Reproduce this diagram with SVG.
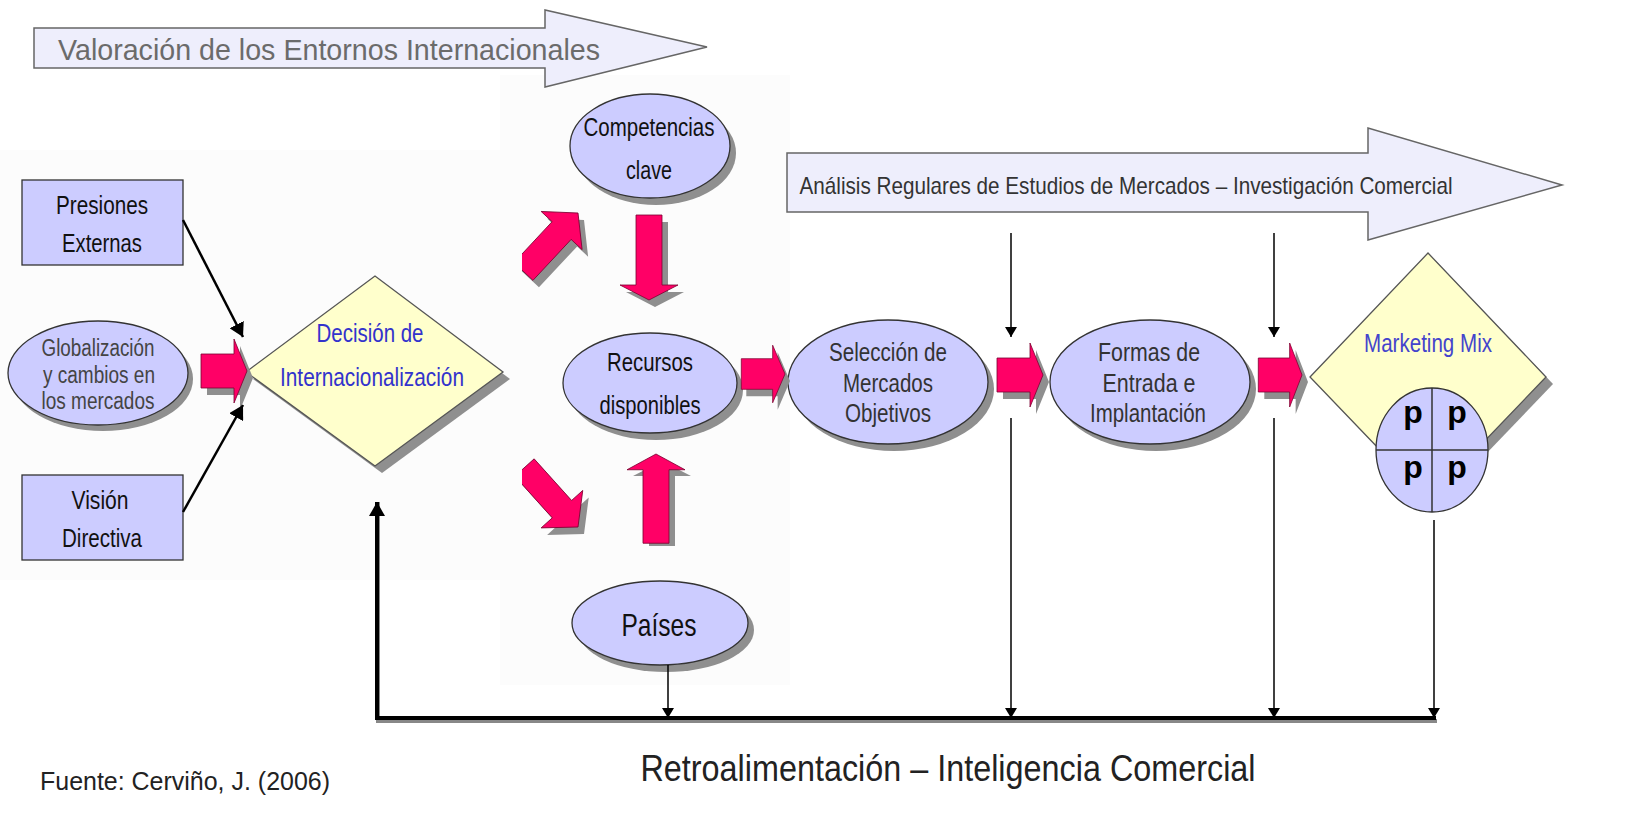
<svg xmlns="http://www.w3.org/2000/svg" width="1633" height="820" viewBox="0 0 1633 820">
<style>
.t{font-family:"Liberation Sans","Noto Sans",Arial,sans-serif;text-anchor:middle}
.nd{fill:#ccccff;stroke:#333;stroke-width:1.3}
.dm{fill:#ffffcc;stroke:#555;stroke-width:1.3}
.sh{fill:#8f8f8f}
.red{fill:#ff0066;stroke:#7a0030;stroke-width:0.8}
.big{fill:#eeeefc;stroke:#666;stroke-width:1.5}
.thin{stroke:#000;stroke-width:1.5;fill:none}
</style>
<defs>
<marker id="ah" viewBox="0 0 10 12" refX="10" refY="6" markerWidth="10" markerHeight="12" markerUnits="userSpaceOnUse" orient="auto">
<path d="M0,0 L10,6 L0,12 Z" fill="#000"/>
</marker>
<marker id="ah2" viewBox="0 0 14 16" refX="14" refY="8" markerWidth="14" markerHeight="16" markerUnits="userSpaceOnUse" orient="auto">
<path d="M0,0 L14,8 L0,16 Z" fill="#000"/>
</marker>
<path id="ra" d="M-46,-17 H-13 V-32 L0,0 L-13,32 V17 H-46 Z"/>
<path id="da" d="M-80,-13 H-24 V-28 L0,0 L-24,28 V13 H-80 Z"/>
<path id="va" d="M-13,-85 H13 V-15 H29 L0,0 L-29,-15 H-13 Z"/>
<clipPath id="cl"><rect x="522" y="0" width="300" height="820"/></clipPath>
</defs>
<rect width="1633" height="820" fill="#ffffff"/>
<rect x="0" y="150" width="500" height="430" fill="#fcfcfc"/>
<rect x="500" y="75" width="290" height="610" fill="#fcfcfc"/>

<g id="valoracion">
<polygon class="big" points="34,28 545,28 545,10 707,47 545,87 545,68 34,68"/>
<text class="t" x="329" y="60" font-size="30" fill="#6b6b6b" textLength="542" lengthAdjust="spacingAndGlyphs">Valoración de los Entornos Internacionales</text>
</g>

<g id="analisis">
<polygon class="big" points="787,153 1368,153 1368,128 1562,185 1368,240 1368,212 787,212"/>
<text class="t" x="1126" y="194" font-size="24" fill="#333" textLength="653" lengthAdjust="spacingAndGlyphs">Análisis Regulares de Estudios de Mercados – Investigación Comercial</text>
</g>

<g id="presiones">
<rect class="nd" x="22" y="180" width="161" height="85"/>
<text class="t" x="102" y="214" font-size="26" fill="#111" textLength="92" lengthAdjust="spacingAndGlyphs">Presiones</text>
<text class="t" x="102" y="252" font-size="26" fill="#111" textLength="80" lengthAdjust="spacingAndGlyphs">Externas</text>
</g>

<g id="globalizacion">
<ellipse class="sh" cx="103" cy="379" rx="90" ry="52"/>
<ellipse class="nd" cx="98" cy="373" rx="90" ry="52"/>
<text class="t" x="98" y="356" font-size="23" fill="#444" textLength="113" lengthAdjust="spacingAndGlyphs">Globalización</text>
<text class="t" x="99" y="383" font-size="23" fill="#444" textLength="112" lengthAdjust="spacingAndGlyphs">y cambios en</text>
<text class="t" x="98" y="409" font-size="23" fill="#444" textLength="113" lengthAdjust="spacingAndGlyphs">los mercados</text>
</g>

<g id="vision">
<rect class="nd" x="22" y="475" width="161" height="85"/>
<text class="t" x="100" y="509" font-size="26" fill="#111" textLength="57" lengthAdjust="spacingAndGlyphs">Visión</text>
<text class="t" x="102" y="547" font-size="26" fill="#111" textLength="80" lengthAdjust="spacingAndGlyphs">Directiva</text>
</g>

<g id="decision">
<polygon class="sh" points="253,379 382,283 510,379 382,473"/>
<polygon class="dm" points="246,372 375,276 503,372 375,466"/>
<text class="t" x="370" y="342" font-size="25" fill="#3333cc" textLength="107" lengthAdjust="spacingAndGlyphs">Decisión de</text>
<text class="t" x="372" y="386" font-size="25" fill="#3333cc" textLength="184" lengthAdjust="spacingAndGlyphs">Internacionalización</text>
</g>

<g id="competencias">
<ellipse class="sh" cx="656" cy="153" rx="80" ry="52"/>
<ellipse class="nd" cx="650" cy="146" rx="80" ry="52"/>
<text class="t" x="649" y="136" font-size="26" fill="#111" textLength="131" lengthAdjust="spacingAndGlyphs">Competencias</text>
<text class="t" x="649" y="179" font-size="26" fill="#111" textLength="46" lengthAdjust="spacingAndGlyphs">clave</text>
</g>

<g id="recursos">
<ellipse class="sh" cx="656" cy="390" rx="87" ry="50"/>
<ellipse class="nd" cx="650" cy="383" rx="87" ry="50"/>
<text class="t" x="650" y="371" font-size="26" fill="#111" textLength="86" lengthAdjust="spacingAndGlyphs">Recursos</text>
<text class="t" x="650" y="414" font-size="26" fill="#111" textLength="101" lengthAdjust="spacingAndGlyphs">disponibles</text>
</g>

<g id="paises">
<ellipse class="sh" cx="666" cy="630" rx="88" ry="42"/>
<ellipse class="nd" cx="660" cy="623" rx="88" ry="42"/>
<text class="t" x="659" y="636" font-size="32" fill="#111" textLength="75" lengthAdjust="spacingAndGlyphs">Países</text>
</g>

<g id="seleccion">
<ellipse class="sh" cx="894" cy="389" rx="100" ry="62"/>
<ellipse class="nd" cx="888" cy="382" rx="100" ry="62"/>
<text class="t" x="888" y="361" font-size="25" fill="#333" textLength="118" lengthAdjust="spacingAndGlyphs">Selección de</text>
<text class="t" x="888" y="392" font-size="25" fill="#333" textLength="90" lengthAdjust="spacingAndGlyphs">Mercados</text>
<text class="t" x="888" y="422" font-size="25" fill="#333" textLength="86" lengthAdjust="spacingAndGlyphs">Objetivos</text>
</g>

<g id="formas">
<ellipse class="sh" cx="1156" cy="389" rx="100" ry="62"/>
<ellipse class="nd" cx="1150" cy="382" rx="100" ry="62"/>
<text class="t" x="1149" y="361" font-size="25" fill="#333" textLength="102" lengthAdjust="spacingAndGlyphs">Formas de</text>
<text class="t" x="1149" y="392" font-size="25" fill="#333" textLength="93" lengthAdjust="spacingAndGlyphs">Entrada e</text>
<text class="t" x="1148" y="422" font-size="25" fill="#333" textLength="116" lengthAdjust="spacingAndGlyphs">Implantación</text>
</g>

<g id="marketing">
<polygon class="sh" points="1317,384 1435,260 1553,384 1435,507"/>
<polygon class="dm" points="1310,377 1428,253 1546,377 1428,500"/>
<text class="t" x="1428" y="352" font-size="25" fill="#4444cc" textLength="128" lengthAdjust="spacingAndGlyphs">Marketing Mix</text>
<ellipse class="nd" cx="1432" cy="450" rx="56" ry="62"/>
<line x1="1432" y1="388" x2="1432" y2="512" stroke="#333" stroke-width="1.5"/>
<line x1="1376" y1="450" x2="1488" y2="450" stroke="#333" stroke-width="1.5"/>
<text class="t" x="1413" y="423" font-size="32" font-weight="bold" fill="#000">p</text>
<text class="t" x="1457" y="423" font-size="32" font-weight="bold" fill="#000">p</text>
<text class="t" x="1413" y="478" font-size="32" font-weight="bold" fill="#000">p</text>
<text class="t" x="1457" y="478" font-size="32" font-weight="bold" fill="#000">p</text>
</g>

<g id="connectors">
<use href="#ra" class="sh" transform="translate(253,378)"/>
<use href="#ra" class="red" transform="translate(247,371)"/>
<use href="#ra" class="sh" transform="translate(790,381) scale(0.95,0.9)"/>
<use href="#ra" class="red" transform="translate(785,374) scale(0.95,0.9)"/>
<use href="#ra" class="sh" transform="translate(1049,382)"/>
<use href="#ra" class="red" transform="translate(1043,375)"/>
<use href="#ra" class="sh" transform="translate(1308,382) scale(0.95,1)"/>
<use href="#ra" class="red" transform="translate(1302,375) scale(0.95,1)"/>
<use href="#va" class="sh" transform="translate(655,307)"/>
<use href="#va" class="red" transform="translate(649,300)"/>
<use href="#va" class="sh" transform="translate(662,461) rotate(180)"/>
<use href="#va" class="red" transform="translate(656,454) rotate(180) scale(1,1.05)"/>
<g clip-path="url(#cl)">
<use href="#da" class="sh" transform="translate(584,220) rotate(-47)"/>
<use href="#da" class="red" transform="translate(578,213) rotate(-47)"/>
<use href="#da" class="sh" transform="translate(584,534) rotate(48)"/>
<use href="#da" class="red" transform="translate(578,527) rotate(48)"/>
</g>
<line x1="183" y1="220" x2="243" y2="337" stroke="#000" stroke-width="2.5" marker-end="url(#ah2)"/>
<line x1="183" y1="512" x2="243" y2="405" stroke="#000" stroke-width="2.5" marker-end="url(#ah2)"/>
<line class="thin" x1="1011" y1="233" x2="1011" y2="337" marker-end="url(#ah)"/>
<line class="thin" x1="1274" y1="233" x2="1274" y2="337" marker-end="url(#ah)"/>
<line class="thin" x1="1011" y1="418" x2="1011" y2="718" marker-end="url(#ah)"/>
<line class="thin" x1="1274" y1="418" x2="1274" y2="718" marker-end="url(#ah)"/>
<line class="thin" x1="1434" y1="520" x2="1434" y2="718" marker-end="url(#ah)"/>
<line class="thin" x1="668" y1="665" x2="668" y2="718" marker-end="url(#ah)"/>
<polyline points="1436,719 377,719 377,500" fill="none" stroke="#888" stroke-width="4" transform="translate(1,2)"/>
<polyline points="1436,718 377,718 377,502" fill="none" stroke="#000" stroke-width="4" marker-end="url(#ah2)"/>
</g>

<g id="labels">
<text class="t" x="948" y="781" font-size="37" fill="#222" textLength="615" lengthAdjust="spacingAndGlyphs">Retroalimentación – Inteligencia Comercial</text>
<text x="40" y="790" font-size="26" fill="#222" font-family="Liberation Sans, sans-serif" textLength="290" lengthAdjust="spacingAndGlyphs">Fuente: Cerviño, J. (2006)</text>
</g>
</svg>
